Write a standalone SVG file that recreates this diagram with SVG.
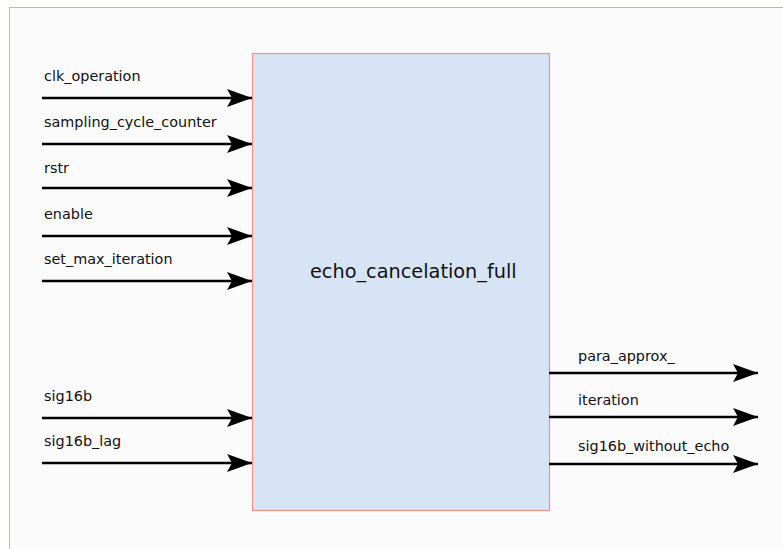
<svg xmlns="http://www.w3.org/2000/svg" width="783" height="549" viewBox="0 0 783 549">
  <style>
    .lbl { font-family: "DejaVu Sans", Verdana, sans-serif; font-size: 14.4px; fill: #111; }
    .title { font-family: "DejaVu Sans", Verdana, sans-serif; font-size: 19.3px; fill: #111; }
    .wire { stroke: #000; stroke-width: 2.5; fill: none; }
  </style>
  <defs>
    <marker id="arrow" markerUnits="userSpaceOnUse" markerWidth="26" markerHeight="20" refX="25" refY="9" orient="auto">
      <path d="M0,0 L25,9 L0,18 L5,9 Z" fill="#000"/>
    </marker>
  </defs>
  <rect width="783" height="549" fill="#ffffff"/>
  <!-- outer frame -->
  <rect x="9.5" y="7.5" width="790" height="560" fill="#fbfbfb" stroke="#f4a09c" stroke-width="1"/>

  <g id="echo_cancelation_full">
    <rect x="252.5" y="53.5" width="297" height="457" fill="#d6e4f5" stroke="#f4928c" stroke-width="1.2"/>
    <text class="title" x="310" y="278">echo_cancelation_full</text>
  </g>

  <g id="connectors">
    <line class="wire" x1="42" y1="98" x2="252" y2="98" marker-end="url(#arrow)"/>
    <line class="wire" x1="42" y1="144" x2="252" y2="144" marker-end="url(#arrow)"/>
    <line class="wire" x1="42" y1="188" x2="252" y2="188" marker-end="url(#arrow)"/>
    <line class="wire" x1="42" y1="236" x2="252" y2="236" marker-end="url(#arrow)"/>
    <line class="wire" x1="42" y1="281" x2="252" y2="281" marker-end="url(#arrow)"/>
    <line class="wire" x1="42" y1="418" x2="252" y2="418" marker-end="url(#arrow)"/>
    <line class="wire" x1="42" y1="463" x2="252" y2="463" marker-end="url(#arrow)"/>
    <line class="wire" x1="549" y1="373" x2="758" y2="373" marker-end="url(#arrow)"/>
    <line class="wire" x1="549" y1="417" x2="758" y2="417" marker-end="url(#arrow)"/>
    <line class="wire" x1="549" y1="464" x2="758" y2="464" marker-end="url(#arrow)"/>
  </g>

  <g id="port-labels">
    <text class="lbl" x="44" y="81">clk_operation</text>
    <text class="lbl" x="44" y="127">sampling_cycle_counter</text>
    <text class="lbl" x="44" y="173">rstr</text>
    <text class="lbl" x="44" y="219">enable</text>
    <text class="lbl" x="44" y="264">set_max_iteration</text>
    <text class="lbl" x="44" y="401">sig16b</text>
    <text class="lbl" x="44" y="446">sig16b_lag</text>
    <text class="lbl" x="578" y="361">para_approx_</text>
    <text class="lbl" x="578" y="405">iteration</text>
    <text class="lbl" x="578" y="451">sig16b_without_echo</text>
  </g>
</svg>
